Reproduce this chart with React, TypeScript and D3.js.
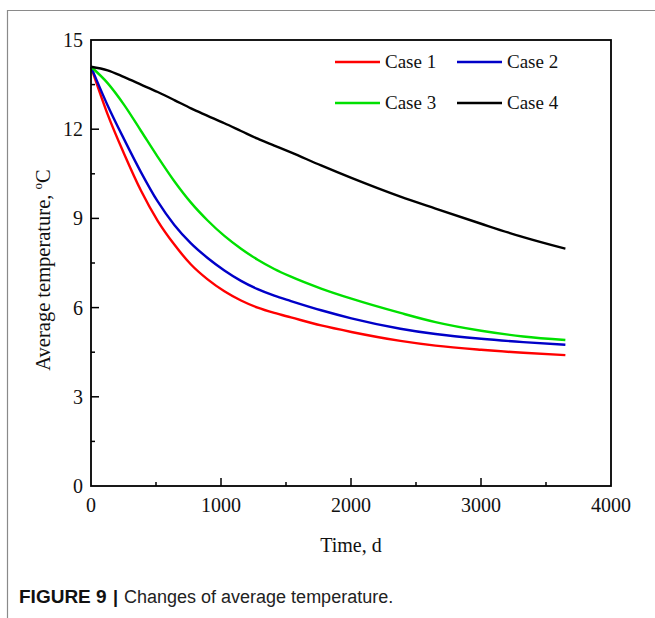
import React from "react";
import * as d3 from "d3";

const times = [0, 128, 256, 385, 513, 641, 769, 897, 1026, 1154, 1282, 1410, 1538, 1770, 2003, 2380, 2650, 3001, 3325, 3649];
const case1 = [14.1, 12.5, 11.16, 9.93, 8.92, 8.12, 7.45, 6.95, 6.55, 6.24, 6.0, 5.82, 5.67, 5.4, 5.18, 4.88, 4.72, 4.58, 4.48, 4.4];
const case2 = [14.1, 12.8, 11.65, 10.55, 9.57, 8.78, 8.16, 7.67, 7.25, 6.9, 6.62, 6.4, 6.22, 5.91, 5.64, 5.29, 5.11, 4.95, 4.84, 4.75];
const case3 = [14.1, 13.55, 12.81, 11.94, 11.07, 10.25, 9.53, 8.93, 8.41, 7.98, 7.61, 7.3, 7.04, 6.64, 6.3, 5.82, 5.51, 5.22, 5.03, 4.91];
const case4 = [14.1, 13.98, 13.75, 13.5, 13.25, 12.98, 12.7, 12.45, 12.2, 11.94, 11.68, 11.45, 11.22, 10.78, 10.36, 9.73, 9.33, 8.82, 8.37, 7.98];
const seriesNames = ["Case 1", "Case 2", "Case 3", "Case 4"];
const seriesColors = ["#ff0000", "#0000c8", "#00e000", "#000000"];
const seriesValues = [case1, case2, case3, case4];
const xTicks = [0, 1000, 2000, 3000, 4000];
const yTicks = [0, 3, 6, 9, 12, 15];

export default function App() {
  const left = 91, right = 611, top = 40, bottom = 486;
  const x = d3.scaleLinear().domain([0, 4000]).range([left, right]);
  const y = d3.scaleLinear().domain([0, 15]).range([bottom, top]);
  const line = d3
    .line<[number, number]>()
    .x((d) => x(d[0]))
    .y((d) => y(d[1]))
    .curve(d3.curveMonotoneX);
  const xMinor = d3.range(500, 4000, 1000);
  const yMinor = d3.range(1.5, 15, 3);
  const serif = "'Liberation Serif', 'Times New Roman', serif";
  const sans = "'Liberation Sans Narrow', 'Liberation Sans', Arial, sans-serif";
  const legendPos = [
    [335, 62],
    [457, 62],
    [335, 103],
    [457, 103],
  ];
  return (
    <svg
      width={655}
      height={618}
      style={{ position: "absolute", left: 0, top: 0, background: "#fff" }}
    >
      <rect x={0} y={0} width={655} height={618} fill="#fff" />
      <line x1={7} y1={10.5} x2={655} y2={10.5} stroke="#8a8a8a" strokeWidth={1.2} />
      <line x1={7.5} y1={10} x2={7.5} y2={618} stroke="#8a8a8a" strokeWidth={1.2} />

      {seriesValues.map((vals, i) => (
        <path
          key={i}
          d={line(times.map((t, j) => [t, vals[j]] as [number, number])) || ""}
          fill="none"
          stroke={seriesColors[i]}
          strokeWidth={2.4}
        />
      ))}

      <rect x={left} y={top} width={right - left} height={bottom - top} fill="none" stroke="#000" strokeWidth={1.8} />

      {xTicks.slice(1, -1).map((t) => (
        <line key={t} x1={x(t)} x2={x(t)} y1={bottom} y2={bottom - 8} stroke="#000" strokeWidth={1.5} />
      ))}
      {xMinor.map((t) => (
        <line key={t} x1={x(t)} x2={x(t)} y1={bottom} y2={bottom - 4} stroke="#000" strokeWidth={1.5} />
      ))}
      {yTicks.slice(1, -1).map((t) => (
        <line key={t} x1={left} x2={left + 8} y1={y(t)} y2={y(t)} stroke="#000" strokeWidth={1.5} />
      ))}
      {yMinor.map((t) => (
        <line key={t} x1={left} x2={left + 4} y1={y(t)} y2={y(t)} stroke="#000" strokeWidth={1.5} />
      ))}

      {xTicks.map((t) => (
        <text key={t} x={x(t)} y={bottom + 26} textAnchor="middle" fontFamily={serif} fontSize={20} fill="#111">
          {t}
        </text>
      ))}
      {yTicks.map((t) => (
        <text key={t} x={left - 8} y={y(t) + 7} textAnchor="end" fontFamily={serif} fontSize={20} fill="#111">
          {t}
        </text>
      ))}

      <text x={351} y={552} textAnchor="middle" fontFamily={serif} fontSize={20} fill="#111">
        Time, d
      </text>
      <text
        transform={`translate(50, 270) rotate(-90)`}
        textAnchor="middle"
        fontFamily={serif}
        fontSize={20.5}
        fill="#111"
      >
        Average temperature,{" "}
        <tspan fontSize={13} dy={-8}>o</tspan>
        <tspan dy={8}>C</tspan>
      </text>

      {seriesNames.map((name, i) => {
        const [lx, ly] = legendPos[i];
        return (
          <g key={name}>
            <line x1={lx} x2={lx + 45} y1={ly} y2={ly} stroke={seriesColors[i]} strokeWidth={2.4} />
            <text x={lx + 50} y={ly + 6} fontFamily={serif} fontSize={19} fill="#111">
              {name}
            </text>
          </g>
        );
      })}

      <text x={19} y={603} fontFamily={sans} fontSize={19} fontWeight="bold" fill="#111">
        FIGURE 9
      </text>
      <text x={113} y={603} fontFamily={sans} fontSize={18} fontWeight="bold" fill="#111">
        |
      </text>
      <text x={124} y={603} fontFamily={sans} fontSize={18} fill="#222">
        Changes of average temperature.
      </text>
    </svg>
  );
}
